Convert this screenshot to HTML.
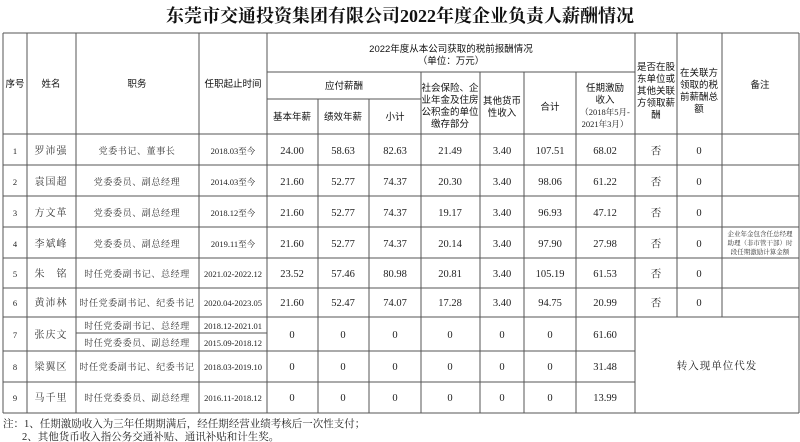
<!DOCTYPE html>
<html><head><meta charset="utf-8"><style>
html,body{margin:0;padding:0;background:#fff;}
svg{display:block}
.t{font-family:"Liberation Serif","Noto Serif CJK SC",serif;font-weight:bold;font-size:18px;fill:#111}
.h{font-family:"Liberation Sans","Noto Sans CJK SC",sans-serif;font-size:9.5px;fill:#111}
.d{font-family:"Liberation Serif","Noto Serif CJK SC",serif;font-size:10.5px;fill:#222}
.s{font-family:"Liberation Serif","Noto Serif CJK SC",serif;font-size:8.5px;fill:#222}
.p{font-family:"Liberation Serif","Noto Serif CJK SC",serif;font-size:9px;letter-spacing:0.6px;fill:#333}
.n{font-family:"Liberation Serif","Noto Serif CJK SC",serif;font-size:10px;letter-spacing:1px;fill:#333}
.r{font-family:"Liberation Serif","Noto Serif CJK SC",serif;font-size:6.5px;fill:#333}
line{stroke:#555;stroke-width:1}
</style></head><body>
<svg width="800" height="442" viewBox="0 0 800 442" xmlns="http://www.w3.org/2000/svg">
<text class="t" x="400" y="22" text-anchor="middle">东莞市交通投资集团有限公司2022年度企业负责人薪酬情况</text>
<g>
<line x1="3" y1="33" x2="799" y2="33"/>
<line x1="3" y1="413" x2="799" y2="413"/>
<line x1="3" y1="33" x2="3" y2="413"/>
<line x1="799" y1="33" x2="799" y2="413"/>
<line x1="27" y1="33" x2="27" y2="413"/>
<line x1="76" y1="33" x2="76" y2="413"/>
<line x1="199" y1="33" x2="199" y2="413"/>
<line x1="267" y1="33" x2="267" y2="413"/>
<line x1="318" y1="99" x2="318" y2="413"/>
<line x1="369" y1="99" x2="369" y2="413"/>
<line x1="421" y1="72" x2="421" y2="413"/>
<line x1="480" y1="72" x2="480" y2="413"/>
<line x1="524" y1="72" x2="524" y2="413"/>
<line x1="576" y1="72" x2="576" y2="413"/>
<line x1="635" y1="33" x2="635" y2="413"/>
<line x1="677" y1="33" x2="677" y2="317"/>
<line x1="722" y1="33" x2="722" y2="317"/>
<line x1="267" y1="72" x2="635" y2="72"/>
<line x1="267" y1="99" x2="421" y2="99"/>
<line x1="3" y1="134" x2="799" y2="134"/>
<line x1="3" y1="165" x2="799" y2="165"/>
<line x1="3" y1="196" x2="799" y2="196"/>
<line x1="3" y1="227" x2="799" y2="227"/>
<line x1="3" y1="258" x2="799" y2="258"/>
<line x1="3" y1="288" x2="799" y2="288"/>
<line x1="3" y1="317" x2="799" y2="317"/>
<line x1="76" y1="333" x2="267" y2="333"/>
<line x1="3" y1="351" x2="635" y2="351"/>
<line x1="3" y1="382" x2="635" y2="382"/>
</g>
<g class="h" text-anchor="middle">
<text x="15" y="87">序号</text>
<text x="51" y="87">姓名</text>
<text x="137" y="87">职务</text>
<text x="233" y="87">任职起止时间</text>
<text x="451" y="52">2022年度从本公司获取的税前报酬情况</text>
<text x="451" y="64">（单位：万元）</text>
<text x="344" y="89">应付薪酬</text>
<text x="292" y="120">基本年薪</text>
<text x="343" y="120">绩效年薪</text>
<text x="395" y="120">小计</text>
<text x="450" y="91">社会保险、企</text>
<text x="450" y="103">业年金及住房</text>
<text x="450" y="115">公积金的单位</text>
<text x="450" y="127">缴存部分</text>
<text x="502" y="104">其他货币</text>
<text x="502" y="116">性收入</text>
<text x="550" y="110">合计</text>
<text x="605" y="91">任期激励</text>
<text x="605" y="103">收入</text>
<text x="605" y="115" class="s">（2018年5月-</text>
<text x="605" y="127" class="s">2021年3月）</text>
<text x="656" y="70">是否在股</text>
<text x="656" y="82">东单位或</text>
<text x="656" y="94">其他关联</text>
<text x="656" y="106">方领取薪</text>
<text x="656" y="118">酬</text>
<text x="699" y="76">在关联方</text>
<text x="699" y="88">领取的税</text>
<text x="699" y="100">前薪酬总</text>
<text x="699" y="112">额</text>
<text x="760" y="88">备注</text>
</g>
<g class="d" text-anchor="middle">
<g>
<text x="15" y="154" class="s">1</text><text x="51" y="154" class="n">罗沛强</text><text x="137" y="154" class="p">党委书记、董事长</text><text x="233" y="154" class="s">2018.03至今</text>
<text x="292" y="154">24.00</text><text x="343" y="154">58.63</text><text x="395" y="154">82.63</text><text x="450" y="154">21.49</text><text x="502" y="154">3.40</text><text x="550" y="154">107.51</text><text x="605" y="154">68.02</text><text x="656" y="154">否</text><text x="699" y="154">0</text>
</g>
<g>
<text x="15" y="185" class="s">2</text><text x="51" y="185" class="n">袁国超</text><text x="137" y="185" class="p">党委委员、副总经理</text><text x="233" y="185" class="s">2014.03至今</text>
<text x="292" y="185">21.60</text><text x="343" y="185">52.77</text><text x="395" y="185">74.37</text><text x="450" y="185">20.30</text><text x="502" y="185">3.40</text><text x="550" y="185">98.06</text><text x="605" y="185">61.22</text><text x="656" y="185">否</text><text x="699" y="185">0</text>
</g>
<g>
<text x="15" y="216" class="s">3</text><text x="51" y="216" class="n">方文革</text><text x="137" y="216" class="p">党委委员、副总经理</text><text x="233" y="216" class="s">2018.12至今</text>
<text x="292" y="216">21.60</text><text x="343" y="216">52.77</text><text x="395" y="216">74.37</text><text x="450" y="216">19.17</text><text x="502" y="216">3.40</text><text x="550" y="216">96.93</text><text x="605" y="216">47.12</text><text x="656" y="216">否</text><text x="699" y="216">0</text>
</g>
<g>
<text x="15" y="247" class="s">4</text><text x="51" y="247" class="n">李斌峰</text><text x="137" y="247" class="p">党委委员、副总经理</text><text x="233" y="247" class="s">2019.11至今</text>
<text x="292" y="247">21.60</text><text x="343" y="247">52.77</text><text x="395" y="247">74.37</text><text x="450" y="247">20.14</text><text x="502" y="247">3.40</text><text x="550" y="247">97.90</text><text x="605" y="247">27.98</text><text x="656" y="247">否</text><text x="699" y="247">0</text>
<text x="760" y="236" class="r">企业年金包含任总经理</text><text x="760" y="245" class="r">助理（非市管干部）时</text><text x="760" y="254" class="r">段任期激励计算金额</text>
</g>
<g>
<text x="15" y="277" class="s">5</text><text x="51" y="277" class="n">朱　铭</text><text x="137" y="277" class="p">时任党委副书记、总经理</text><text x="233" y="277" class="s">2021.02-2022.12</text>
<text x="292" y="277">23.52</text><text x="343" y="277">57.46</text><text x="395" y="277">80.98</text><text x="450" y="277">20.81</text><text x="502" y="277">3.40</text><text x="550" y="277">105.19</text><text x="605" y="277">61.53</text><text x="656" y="277">否</text><text x="699" y="277">0</text>
</g>
<g>
<text x="15" y="306" class="s">6</text><text x="51" y="306" class="n">黄沛林</text><text x="137" y="306" class="p">时任党委副书记、纪委书记</text><text x="233" y="306" class="s">2020.04-2023.05</text>
<text x="292" y="306">21.60</text><text x="343" y="306">52.47</text><text x="395" y="306">74.07</text><text x="450" y="306">17.28</text><text x="502" y="306">3.40</text><text x="550" y="306">94.75</text><text x="605" y="306">20.99</text><text x="656" y="306">否</text><text x="699" y="306">0</text>
</g>
<g>
<text x="15" y="338" class="s">7</text><text x="51" y="338" class="n">张庆文</text><text x="137" y="329" class="p">时任党委副书记、总经理</text><text x="137" y="346" class="p">时任党委委员、副总经理</text><text x="233" y="329" class="s">2018.12-2021.01</text><text x="233" y="346" class="s">2015.09-2018.12</text>
<text x="292" y="338">0</text><text x="343" y="338">0</text><text x="395" y="338">0</text><text x="450" y="338">0</text><text x="502" y="338">0</text><text x="550" y="338">0</text><text x="605" y="338">61.60</text>
</g>
<g>
<text x="15" y="370" class="s">8</text><text x="51" y="370" class="n">梁翼区</text><text x="137" y="370" class="p">时任党委副书记、纪委书记</text><text x="233" y="370" class="s">2018.03-2019.10</text>
<text x="292" y="370">0</text><text x="343" y="370">0</text><text x="395" y="370">0</text><text x="450" y="370">0</text><text x="502" y="370">0</text><text x="550" y="370">0</text><text x="605" y="370">31.48</text>
</g>
<g>
<text x="15" y="401" class="s">9</text><text x="51" y="401" class="n">马千里</text><text x="137" y="401" class="p">时任党委委员、副总经理</text><text x="233" y="401" class="s">2016.11-2018.12</text>
<text x="292" y="401">0</text><text x="343" y="401">0</text><text x="395" y="401">0</text><text x="450" y="401">0</text><text x="502" y="401">0</text><text x="550" y="401">0</text><text x="605" y="401">13.99</text>
</g>
<text x="717" y="369" style="letter-spacing:1px">转入现单位代发</text>
</g>
<text class="d" x="3" y="427">注：1、任期激励收入为三年任期期满后，经任期经营业绩考核后一次性支付；</text>
<text class="d" x="22" y="440">2、其他货币收入指公务交通补贴、通讯补贴和计生奖。</text>
</svg>
</body></html>
